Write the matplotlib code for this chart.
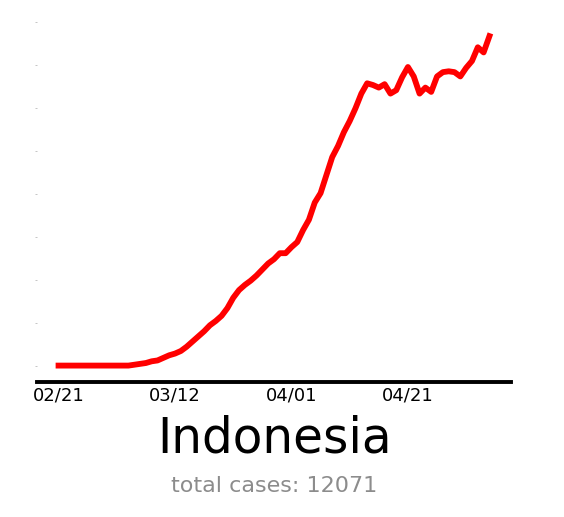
import pandas as pd
import matplotlib
matplotlib.use("Agg")
import matplotlib.pyplot as plt
import matplotlib.dates as mdates

country = "Indonesia"
total_cases = 12071
start_date = "2020-02-21"

# smoothed daily new cases
new_cases = [
    0, 0, 0, 0, 0, 0, 0, 0, 0, 0, 0, 0, 0, 1, 2, 3, 5, 6, 9, 12,
    14, 17, 22, 28, 34, 40, 47, 52, 58, 67, 79, 88, 94, 99, 105, 112, 119, 124, 131, 131,
    138, 144, 158, 170, 190, 201, 222, 243, 256, 272, 285, 300, 317, 329, 327, 324, 328, 317, 321, 336,
    348, 337, 317, 324, 319, 337, 342, 343, 342, 337, 347, 355, 371, 365, 384,
]
tick_dates = ["2020-02-21", "2020-03-12", "2020-04-01", "2020-04-21"]

dates = pd.date_range(start_date, periods=len(new_cases), freq="D")

fig = plt.figure(figsize=(5.64, 5.17), dpi=100)
ax = fig.add_axes([0.0656, 0.261, 0.8404, 0.701])
ax.plot(dates, new_cases, color="red", lw=4.2)

ax.set_xticks(pd.to_datetime(tick_dates))
ax.xaxis.set_major_formatter(mdates.DateFormatter("%m/%d"))
ax.set_yticks(range(0, 401, 50))
ax.tick_params(axis="x", length=0, pad=3, labelsize=13)
ax.tick_params(axis="y", length=1.2, width=0.6, color="#bbbbbb", labelleft=False)

for s in ["top", "right", "left"]:
    ax.spines[s].set_visible(False)
ax.spines["bottom"].set_linewidth(2.8)
ax.spines["bottom"].set_color("black")

fig.text(0.486, 0.1257, country, ha="center", va="baseline", fontsize=35)
fig.text(0.486, 0.0484, f"total cases: {total_cases}", ha="center", va="baseline",
         fontsize=16, color="#8c8c8c")

fig.savefig("out.png", dpi=100)
